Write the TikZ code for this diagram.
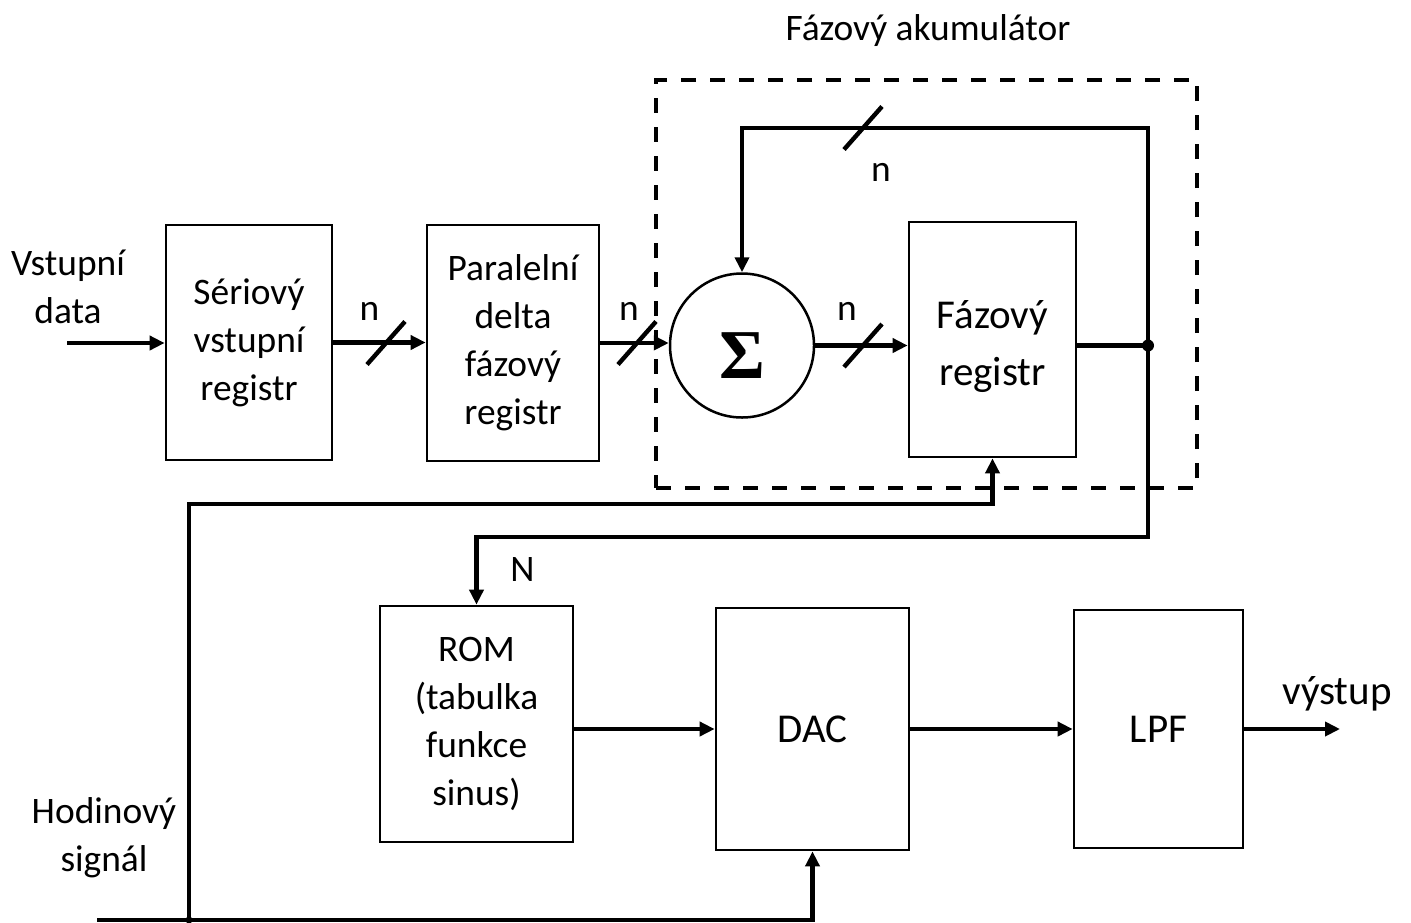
\documentclass[tikz,border=0pt]{standalone}
\usepackage{fontspec}
\setmainfont{Carlito}
\newfontfamily\sigfont{Liberation Serif}
\usetikzlibrary{arrows.meta}
\begin{document}
\begin{tikzpicture}[x=0.5pt,y=-0.5pt,
  conn/.style={line width=2.2pt},
  arr/.style={conn,-{Triangle[length=7.5pt,width=7pt]}},
  txt/.style={font=\fontsize{18.7}{24}\selectfont},
  big/.style={font=\fontsize{20.5}{28.5}\selectfont},
  blk/.style={draw,line width=1.35pt,inner sep=0pt,align=center,txt},
  lbl/.style={inner sep=0pt,align=center,txt},
  dot/.style={circle,fill,inner sep=0pt,minimum size=6pt},
  busmark/.pic={\draw[line width=2.2pt] (-19,21.5) -- (19,-21.5);}]

\useasboundingbox (0,0) rectangle (1411,922);

% phase accumulator frame
\node[draw,line width=2pt,dash pattern=on 7.5pt off 7pt,inner sep=0pt,
      minimum width=270.5pt,minimum height=204pt] (acc) at (926.5,284) {};
\node[lbl] (tit) at (928,31) {Fázový akumulátor};

% blocks
\node[blk,minimum width=83pt,minimum height=117.5pt] (ser) at (249,342.5) {Sériový\\vstupní\\registr};
\node[blk,minimum width=86pt,minimum height=118pt] (par) at (513,343) {Paralelní\\delta\\fázový\\registr};
\node[draw,circle,line width=1.25pt,minimum size=72pt,inner sep=0pt,
      text height=32.7pt,text depth=0pt] (sum) at (742,345.5)
      {\sigfont\bfseries\fontsize{35}{35}\selectfont Σ};
\node[blk,minimum width=83.5pt,minimum height=117.5pt,
      label={[name=regtxt,lbl,big,yshift=-3.5pt]center:{Fázový\\registr}}] (reg) at (992.5,339.5) {};
\node[blk,minimum width=96.5pt,minimum height=118pt] (rom) at (476.5,724) {ROM\\(tabulka\\funkce\\sinus)};
\node[blk,big,minimum width=96.5pt,minimum height=121pt] (dac) at (812.5,729) {DAC};
\node[blk,big,minimum width=84.5pt,minimum height=119pt] (lpf) at (1158.5,729) {LPF};

% free ends and bends
\coordinate (in) at (67,343);
\coordinate (out) at (1340,729);
\coordinate (J) at (1148,345.5);
\coordinate (fb) at (1148,128);
\coordinate (rj) at (1148,537);
\coordinate (clk) at (97,920);
\coordinate (br) at (189,920);
\coordinate (bru) at (189,504);

% signal path
\draw[arr] (in) -- (in -| ser.west);
\draw[arr] (ser.east) -- (ser.east -| par.west);
\draw[arr] (par.east) -- (par.east -| sum.west);
\draw[arr] (sum.east) -- (sum.east -| reg.west);
\draw[conn] (J -| reg.east) -- (J);
\draw[arr] (J) -- (fb) -| (sum.north);
\draw[arr] (J) -- (rj) -| (rom.north);
\draw[arr] (rom.east |- dac.west) -- (dac.west);
\draw[arr] (dac.east) -- (lpf.west);
\draw[arr] (lpf.east) -- (out);

% clock distribution
\draw[arr] (clk) -| (dac.south);
\draw[arr] (br) -- (bru) -| (reg.south);
\node[dot] (jd) at (J) {};
\node[dot,minimum size=3.5pt] (bd) at (br) {};

% bus width marks
\pic at (386,343) {busmark};
\pic at (637,343) {busmark};
\pic at (863,345.5) {busmark};
\pic at (863,128) {busmark};

% labels
\node[lbl] (n1) at (369.5,311) {n};
\node[lbl] (n2) at (629,311) {n};
\node[lbl] (n3) at (847,311) {n};
\node[lbl] (n4) at (881,172.5) {n};
\node[lbl] (nN) at (522.5,569) {N};
\node[lbl] (vin) at (68,287) {Vstupní\\data};
\node[lbl] (hod) at (104,838) {Hodinový\\signál};
\node[lbl,big] (vys) at (1337,694) {výstup};
\end{tikzpicture}
\end{document}
